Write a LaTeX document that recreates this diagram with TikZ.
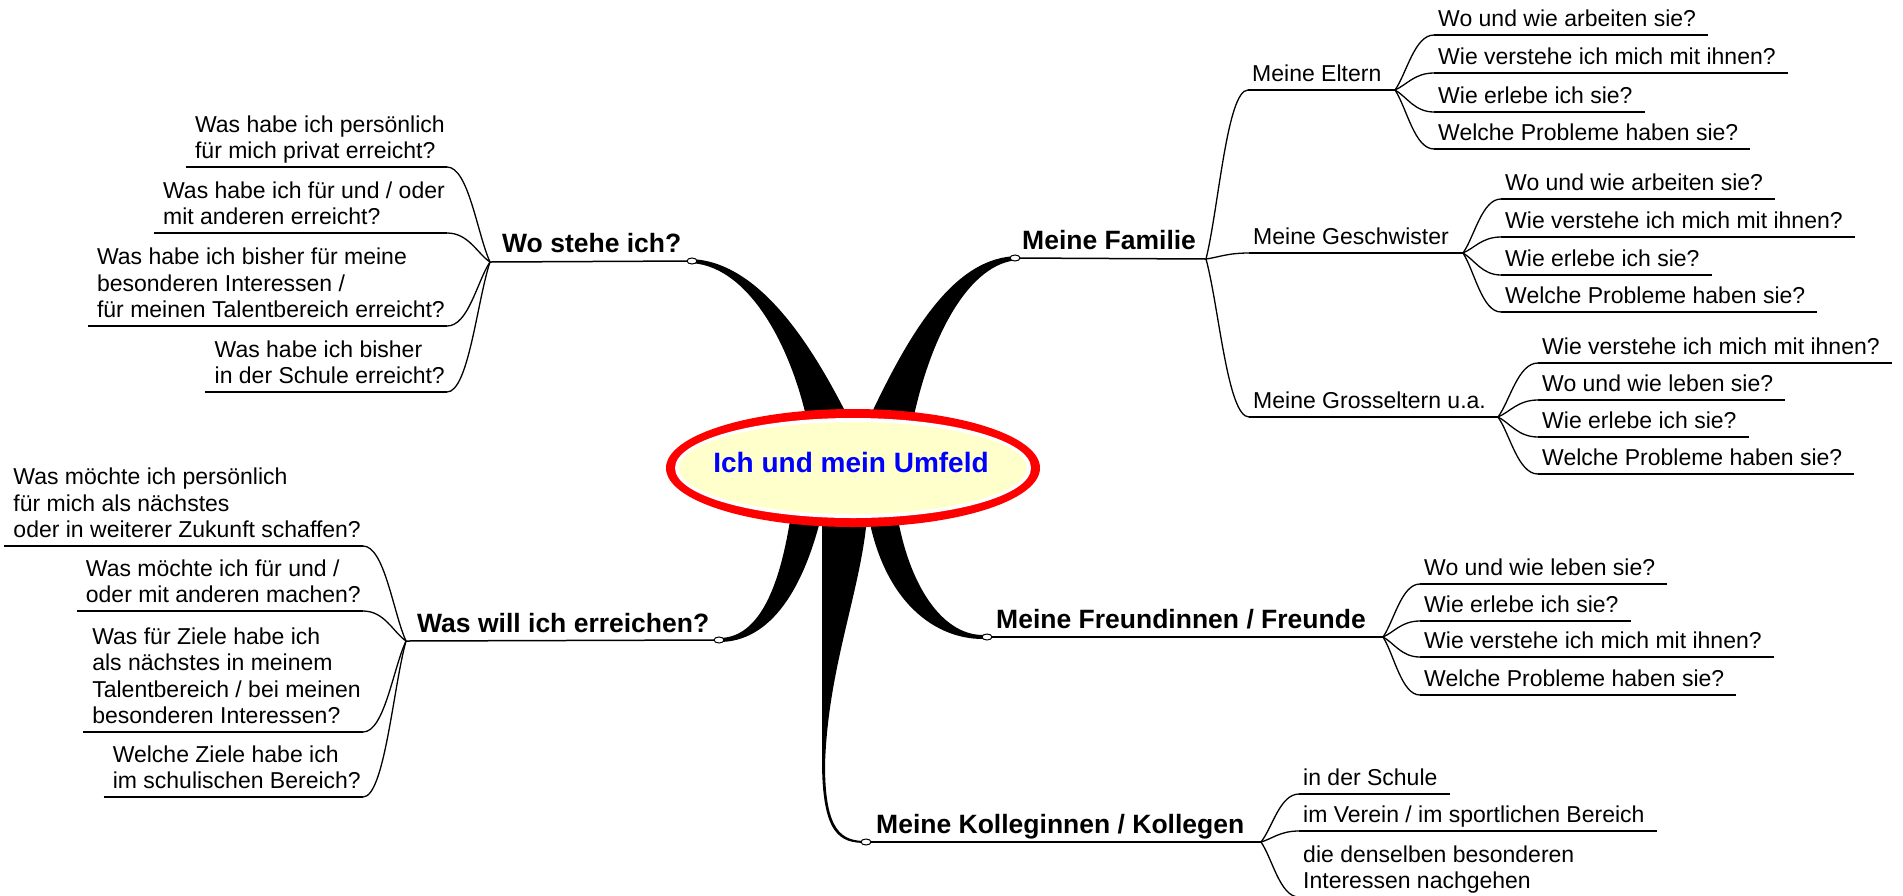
\documentclass[tikz,border=0pt]{standalone}
\usepackage{fontspec}
\setmainfont{Liberation Sans}
\usetikzlibrary{calc,shapes.geometric}
\definecolor{umfeldyellow}{RGB}{255,255,204}
\newcommand\leaffont{\fontsize{23}{26.5}\selectfont}
\newcommand\branchfont{\fontsize{26.5}{30}\selectfont\bfseries}
\newcommand\centerfont{\fontsize{28}{32}\selectfont\bfseries}
\newcommand\leafR[4]{\node[leafr] (#1) at (#2,#3) {#4};
  \draw[ul] (#1.south west) -- ($(#1.south east)+(8,0)$);}
\newcommand\leafL[4]{\node[leafl] (#1) at (#2,#3) {#4};
  \draw[ul] ($(#1.south west)+(-7,0)$) -- (#1.south east);}
\newcommand\conn[2]{\draw[conn] (#1) .. controls ($(#1)!0.3!(#2)$) and ($(#2)!0.5!(#2 -| #1)$) .. (#2);}
\begin{document}
\begin{tikzpicture}[x=1pt,y=-1pt,
  leafr/.style={font=\leaffont, align=left, inner xsep=4pt, inner ysep=0pt, text depth=8pt, anchor=south west},
  leafl/.style={font=\leaffont, align=left, inner xsep=2pt, inner ysep=0pt, text depth=8pt, anchor=south east},
  branch/.style={font=\branchfont, inner sep=0pt, anchor=base west},
  ul/.style={line width=1.5pt},
  conn/.style={line width=1.3pt},
  knob/.style={ellipse, draw, fill=white, line width=1pt, minimum width=10pt, minimum height=6pt, inner sep=0pt},
  wedge/.style={fill=black}]
\fill[white] (0,0) rectangle (1903,895);
\useasboundingbox (0,0) rectangle (1903,895);

% knob positions
\coordinate (kA) at (692,261);
\coordinate (kB) at (1015,258);
\coordinate (kC) at (719,640);
\coordinate (kD) at (987,637);
\coordinate (kE) at (866,842);

% wedges from the centre
\fill[wedge] (808,425) .. controls (790,340) and (745,263) .. (688,263)
  -- (688,259) .. controls (760,259) and (815,350) .. (852,425) -- cycle;
\fill[wedge] (866,425) .. controls (910,330) and (955,256) .. (1019,256)
  -- (1019,260) .. controls (970,262) and (930,335) .. (912,425) -- cycle;
\fill[wedge] (793,500) .. controls (782,585) and (760,638) .. (719,638)
  -- (719,642) .. controls (770,642) and (806,590) .. (825,500) -- cycle;
\fill[wedge] (866,500) .. controls (878,595) and (930,639) .. (983,639)
  -- (983,635) .. controls (940,635) and (905,580) .. (895,500) -- cycle;
\fill[wedge] (822,500) -- (822,760) .. controls (822,835) and (840,843) .. (866,843)
  -- (866,841) .. controls (842,841) and (825,832) .. (825,765)
  .. controls (828,660) and (866,580) .. (868,500) -- cycle;

% central node
\node[ellipse, fill=red, minimum width=374pt, minimum height=118pt, inner sep=0pt] (c) at (853,468) {};
\node[ellipse, fill=white, minimum width=356pt, minimum height=100pt, inner sep=0pt] (cw) at (c) {};
\node[ellipse, fill=umfeldyellow, minimum width=348pt, minimum height=92pt, inner sep=0pt] (cy) at (c) {};
\node[font=\centerfont, text=blue, inner sep=0pt] (ct) at (851,462) {Ich und mein Umfeld};

% ---- Wo stehe ich?
\coordinate (jA) at (490,262);
\draw[ul] (jA) -- (kA);
\node[branch] (A) at (502,252) {Wo stehe ich?};
\leafL{A1}{447}{167}{Was habe ich persönlich\\für mich privat erreicht?}
\leafL{A2}{447}{233}{Was habe ich für und / oder\\mit anderen erreicht?}
\leafL{A3}{447}{326}{Was habe ich bisher für meine\\besonderen Interessen /\\für meinen Talentbereich erreicht?}
\leafL{A4}{447}{392}{Was habe ich bisher\\in der Schule erreicht?}
\conn{jA}{A1.south east}
\conn{jA}{A2.south east}
\conn{jA}{A3.south east}
\conn{jA}{A4.south east}

% ---- Meine Familie
\coordinate (jB) at (1206,259);
\draw[ul] (kB) -- (jB);
\node[branch] (B) at (1022,249) {Meine Familie};
\node[leafr] (B1) at (1248,90) {Meine Eltern};
\coordinate (jB1) at (1395,90);
\draw[ul] (B1.south west) -- (jB1);
\node[leafr] (B2) at (1249,253) {Meine Geschwister};
\coordinate (jB2) at (1463,253);
\draw[ul] (B2.south west) -- (jB2);
\node[leafr] (B3) at (1249,417) {Meine Grosseltern u.a.};
\coordinate (jB3) at (1498,417);
\draw[ul] (B3.south west) -- (jB3);
\conn{jB}{B1.south west}
\conn{jB}{B2.south west}
\conn{jB}{B3.south west}

\leafR{B11}{1434}{35}{Wo und wie arbeiten sie?}
\leafR{B12}{1434}{73}{Wie verstehe ich mich mit ihnen?}
\leafR{B13}{1434}{112}{Wie erlebe ich sie?}
\leafR{B14}{1434}{149}{Welche Probleme haben sie?}
\conn{jB1}{B11.south west}
\conn{jB1}{B12.south west}
\conn{jB1}{B13.south west}
\conn{jB1}{B14.south west}

\leafR{B21}{1501}{199}{Wo und wie arbeiten sie?}
\leafR{B22}{1501}{237}{Wie verstehe ich mich mit ihnen?}
\leafR{B23}{1501}{275}{Wie erlebe ich sie?}
\leafR{B24}{1501}{312}{Welche Probleme haben sie?}
\conn{jB2}{B21.south west}
\conn{jB2}{B22.south west}
\conn{jB2}{B23.south west}
\conn{jB2}{B24.south west}

\leafR{B31}{1538}{363}{Wie verstehe ich mich mit ihnen?}
\leafR{B32}{1538}{400}{Wo und wie leben sie?}
\leafR{B33}{1538}{437}{Wie erlebe ich sie?}
\leafR{B34}{1538}{474}{Welche Probleme haben sie?}
\conn{jB3}{B31.south west}
\conn{jB3}{B32.south west}
\conn{jB3}{B33.south west}
\conn{jB3}{B34.south west}

% ---- Was will ich erreichen?
\coordinate (jC) at (406,641);
\draw[ul] (jC) -- (kC);
\node[branch] (C) at (417,632) {Was will ich erreichen?};
\leafL{C1}{363}{546}{Was möchte ich persönlich\\für mich als nächstes\\oder in weiterer Zukunft schaffen?}
\leafL{C2}{363}{611}{Was möchte ich für und /\\oder mit anderen machen?}
\leafL{C3}{363}{732}{Was für Ziele habe ich\\als nächstes in meinem\\Talentbereich / bei meinen\\besonderen Interessen?}
\leafL{C4}{363}{797}{Welche Ziele habe ich\\im schulischen Bereich?}
\conn{jC}{C1.south east}
\conn{jC}{C2.south east}
\conn{jC}{C3.south east}
\conn{jC}{C4.south east}

% ---- Meine Freundinnen / Freunde
\coordinate (jD) at (1383,637);
\draw[ul] (kD) -- (jD);
\node[branch] (D) at (996,628) {Meine Freundinnen / Freunde};
\leafR{D1}{1420}{584}{Wo und wie leben sie?}
\leafR{D2}{1420}{621}{Wie erlebe ich sie?}
\leafR{D3}{1420}{657}{Wie verstehe ich mich mit ihnen?}
\leafR{D4}{1420}{695}{Welche Probleme haben sie?}
\conn{jD}{D1.south west}
\conn{jD}{D2.south west}
\conn{jD}{D3.south west}
\conn{jD}{D4.south west}

% ---- Meine Kolleginnen / Kollegen
\coordinate (jE) at (1261,842);
\draw[ul] (kE) -- (jE);
\node[branch] (E) at (876,833) {Meine Kolleginnen / Kollegen};
\leafR{E1}{1299}{794}{in der Schule}
\leafR{E2}{1299}{831}{im Verein / im sportlichen Bereich}
\leafR{E3}{1299}{897}{die denselben besonderen\\Interessen nachgehen}
\conn{jE}{E1.south west}
\conn{jE}{E2.south west}
\conn{jE}{E3.south west}

% knobs on top
\node[knob] (oA) at (kA) {};
\node[knob] (oB) at (kB) {};
\node[knob] (oC) at (kC) {};
\node[knob] (oD) at (kD) {};
\node[knob] (oE) at (kE) {};
\end{tikzpicture}
\end{document}
